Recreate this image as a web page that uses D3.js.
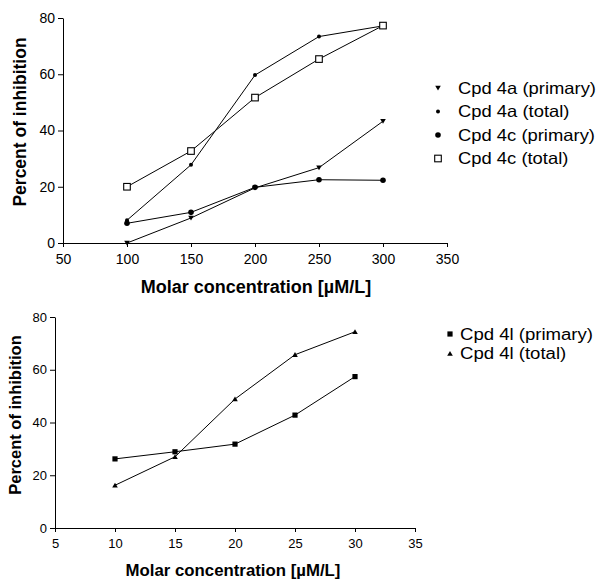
<!DOCTYPE html>
<html>
<head>
<meta charset="utf-8">
<script src="https://cdn.jsdelivr.net/npm/d3@7"></script>
<style>
  html, body { margin: 0; padding: 0; background: #fff; }
  svg { display: block; font-family: "Liberation Sans", Arial, sans-serif; }
</style>
</head>
<body>
<svg id="chart" width="599" height="579"></svg>
<script>
// ---------- Data (top panel) ----------
const topX = [100, 150, 200, 250, 300];
const cpd4aPrimary = [0, 8.9, 19.6, 26.8, 43.3];
const cpd4aTotal   = [8.1, 27.8, 59.7, 73.4, 77.2];
const cpd4cPrimary = [7.0, 10.9, 19.8, 22.5, 22.3];
const cpd4cTotal   = [20.0, 32.7, 51.7, 65.4, 77.3];
const topXTicks = [50, 100, 150, 200, 250, 300, 350];
const topYTicks = [0, 20, 40, 60, 80];
const topLegend = ["Cpd 4a (primary)", "Cpd 4a (total)", "Cpd 4c (primary)", "Cpd 4c (total)"];

// ---------- Data (bottom panel) ----------
const botX = [10, 15, 20, 25, 30];
const cpd4lPrimary = [26.2, 28.9, 31.8, 42.8, 57.4];
const cpd4lTotal   = [16.2, 27.0, 48.9, 65.7, 74.4];
const botXTicks = [5, 10, 15, 20, 25, 30, 35];
const botYTicks = [0, 20, 40, 60, 80];
const botLegend = ["Cpd 4l (primary)", "Cpd 4l (total)"];

const xTitle = "Molar concentration [µM/L]";
const yTitle = "Percent of inhibition";

const svg = d3.select("#chart");

function marker(g, type, x, y) {
  if (type === "triDown") {
    g.append("path").attr("d", `M${x-2.8},${y-2.2}L${x+2.8},${y-2.2}L${x},${y+2.6}Z`).attr("fill", "#000");
  } else if (type === "triUp") {
    g.append("path").attr("d", `M${x-2.8},${y+2.2}L${x+2.8},${y+2.2}L${x},${y-2.6}Z`).attr("fill", "#000");
  } else if (type === "smallDot") {
    g.append("circle").attr("cx", x).attr("cy", y).attr("r", 2).attr("fill", "#000");
  } else if (type === "dot") {
    g.append("circle").attr("cx", x).attr("cy", y).attr("r", 2.8).attr("fill", "#000");
  } else if (type === "openSq") {
    g.append("rect").attr("x", x-3.3).attr("y", y-3.3).attr("width", 6.6).attr("height", 6.6)
      .attr("fill", "#fff").attr("stroke", "#000").attr("stroke-width", 1.1);
  } else if (type === "sq") {
    g.append("rect").attr("x", x-2.6).attr("y", y-2.6).attr("width", 5.2).attr("height", 5.2).attr("fill", "#000");
  }
}

function panel(cfg) {
  const x = d3.scaleLinear().domain(cfg.xDomain).range(cfg.xRange);
  const y = d3.scaleLinear().domain([0, 80]).range(cfg.yRange);
  const g = svg.append("g");

  const xAxis = g.append("g").attr("transform", `translate(0,${cfg.yRange[0]})`)
    .call(d3.axisBottom(x).tickValues(cfg.xTicks).tickSize(4).tickSizeOuter(0).tickPadding(7));
  const yAxis = g.append("g").attr("transform", `translate(${cfg.xRange[0]},0)`)
    .call(d3.axisLeft(y).tickValues(cfg.yTicks).tickSize(5).tickSizeOuter(0).tickPadding(3));
  [xAxis, yAxis].forEach(a => {
    a.selectAll("text").attr("font-size", cfg.tickFont).attr("fill", "#000")
      .attr("font-family", "'Liberation Sans', Arial, sans-serif");
    a.selectAll("line,path").attr("stroke", "#000").attr("stroke-width", 1);
  });

  const line = d3.line().x(d => x(d[0])).y(d => y(d[1]));
  cfg.series.forEach(s => {
    const pts = cfg.xs.map((v, i) => [v, s.values[i]]);
    g.append("path").attr("d", line(pts)).attr("fill", "none").attr("stroke", "#000").attr("stroke-width", 1);
  });
  cfg.series.forEach(s => {
    cfg.xs.forEach((v, i) => marker(g, s.type, x(v), y(s.values[i])));
  });

  // legend
  const texts = [];
  cfg.series.forEach((s, i) => {
    const ly = cfg.legendY + i * cfg.legendStep;
    marker(g, s.type, cfg.legendX, ly);
    texts.push(g.append("text").attr("x", cfg.legendX + cfg.legendGap).attr("y", ly).attr("dy", "0.36em")
      .attr("font-size", cfg.legendFont).text(s.name));
  });
  // stretch slightly horizontally, as the scanned original is wider
  const w0 = texts[0].node().getComputedTextLength();
  const k = cfg.legendWidth / w0;
  texts.forEach(t => {
    const w = t.node().getComputedTextLength();
    t.attr("textLength", w * k).attr("lengthAdjust", "spacingAndGlyphs");
  });

  // titles
  g.append("text").attr("x", cfg.xTitlePos[0]).attr("y", cfg.xTitlePos[1])
    .attr("text-anchor", "middle").attr("font-weight", "bold").attr("font-size", cfg.titleFont).text(xTitle);
  g.append("text").attr("transform", `translate(${cfg.yTitlePos[0]},${cfg.yTitlePos[1]}) rotate(-90)`)
    .attr("text-anchor", "middle").attr("font-weight", "bold").attr("font-size", cfg.yTitleFont).text(yTitle);
}

panel({
  xDomain: [50, 350], xRange: [63, 447], yRange: [243, 18],
  xTicks: topXTicks, yTicks: topYTicks, xs: topX, tickFont: 14,
  series: [
    {name: topLegend[0], values: cpd4aPrimary, type: "triDown"},
    {name: topLegend[1], values: cpd4aTotal, type: "smallDot"},
    {name: topLegend[2], values: cpd4cPrimary, type: "dot"},
    {name: topLegend[3], values: cpd4cTotal, type: "openSq"}
  ],
  legendX: 438, legendY: 88, legendStep: 23.5, legendGap: 20, legendFont: 16.5, legendWidth: 138,
  xTitlePos: [256, 293], yTitlePos: [26, 122], titleFont: 18, yTitleFont: 17.5
});

panel({
  xDomain: [5, 35], xRange: [55, 415], yRange: [528, 317],
  xTicks: botXTicks, yTicks: botYTicks, xs: botX, tickFont: 13,
  series: [
    {name: botLegend[0], values: cpd4lPrimary, type: "sq"},
    {name: botLegend[1], values: cpd4lTotal, type: "triUp"}
  ],
  legendX: 450, legendY: 334, legendStep: 19.5, legendGap: 10, legendFont: 16, legendWidth: 133,
  xTitlePos: [233, 576], yTitlePos: [21, 415], titleFont: 16.8, yTitleFont: 16.5
});
</script>
</body>
</html>
